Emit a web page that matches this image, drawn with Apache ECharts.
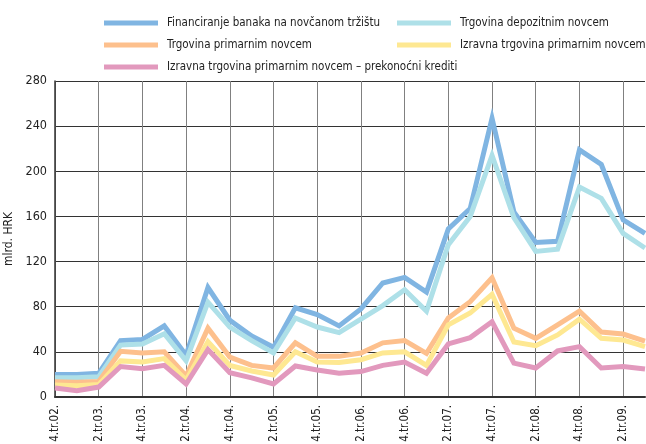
<!DOCTYPE html>
<html>
<head>
    <meta http-equiv="Content-Type" content="text/html; charset=utf-8">
    <title>Novčano tržište</title>
    <script src="https://cdn.jsdelivr.net/npm/echarts@6/dist/echarts.min.js"></script>
    <style>
        body {margin:0; background:#fff;}
    </style>
</head>
<body>
    <div id="main" style="width: 646px;height:444px;"></div>
    <script type="text/javascript">
        var quarters = ["4.tr.02.",
            "1.tr.03.","2.tr.03.","3.tr.03.","4.tr.03.",
            "1.tr.04.","2.tr.04.","3.tr.04.","4.tr.04.",
            "1.tr.05.","2.tr.05.","3.tr.05.","4.tr.05.",
            "1.tr.06.","2.tr.06.","3.tr.06.","4.tr.06.",
            "1.tr.07.","2.tr.07.","3.tr.07.","4.tr.07.",
            "1.tr.08.","2.tr.08.","3.tr.08.","4.tr.08.",
            "1.tr.09.","2.tr.09.","3.tr.09."];

        var financiranje = [20, 20, 21, 50, 51, 63, 37, 97, 68, 54, 44, 79, 73, 63,
                            78, 101, 106, 93, 149, 167, 247, 164, 137, 138, 219, 206, 157, 145];
        var depozitni    = [17, 17, 18, 46, 47, 56, 32, 84, 62, 50, 39, 70, 62, 57,
                            69, 81, 95, 76, 135, 160, 214, 159, 129, 131, 186, 176, 145, 132];
        var primarni     = [13.6, 13, 13.8, 40.5, 39, 40, 18.6, 61, 35.4, 28, 25.7, 48, 36, 36,
                            39, 48, 50, 38.7, 70, 84.5, 105.6, 61, 52, 64, 76, 57.6, 55.8, 49.6];
        var izravna      = [10.6, 10, 11, 32, 31, 34, 15, 49, 28, 23, 19.5, 40, 31, 30.5,
                            33, 39, 40, 28, 64, 74.4, 91, 48.7, 45.5, 55, 69, 52, 50.5, 44.6];
        var prekonocni   = [8, 5.6, 8.8, 27, 25, 28, 11.5, 42, 21.5, 17, 11.5, 27.5, 24, 21,
                            22.5, 28, 31, 21, 47, 52.6, 66.7, 30, 25.7, 40.8, 44.6, 25.7, 27, 24.8];

        var names = ["Financiranje banaka na novčanom tržištu",
                     "Trgovina depozitnim novcem",
                     "Trgovina primarnim novcem",
                     "Izravna trgovina primarnim novcem",
                     "Izravna trgovina primarnim novcem – prekonoćni krediti"];
        var colors = ["#80b5e2", "#aee0e8", "#fdc08d", "#fee892", "#e299bd"];
        var values = [financiranje, depozitni, primarni, izravna, prekonocni];

        var font = '"DejaVu Sans Condensed", "Liberation Sans Narrow", sans-serif';

        var myChart = echarts.init(document.getElementById('main'));

        // two legend columns so the items line up like the original
        var legendBase = {
            orient: 'vertical',
            top: 16,
            padding: 0,
            itemWidth: 54,
            itemHeight: 5,
            itemGap: 8,
            icon: 'rect',
            textStyle: {fontFamily: font, fontSize: 11.5, lineHeight: 14, color: '#222', padding: [0, 0, 0, 4]}
        };

        var series = names.map(function (n, i) {
            return {
                name: n,
                type: 'line',
                data: values[i],
                symbol: 'none',
                color: colors[i],
                lineStyle: {width: 5, color: colors[i], join: 'miter'}
            };
        });

        var option = {
            animation: false,
            textStyle: {fontFamily: font},
            legend: [
                Object.assign({}, legendBase, {left: 104, data: [names[0], names[2], names[4]]}),
                Object.assign({}, legendBase, {left: 397, data: [names[1], names[3]]})
            ],
            grid: {left: 55, right: 1, top: 81, bottom: 47, outerBoundsMode: 'none', containLabel: false},
            xAxis: {
                type: 'category',
                data: quarters,
                boundaryGap: false,
                axisLine: {lineStyle: {color: '#333', width: 2}},
                axisTick: {show: false},
                axisLabel: {interval: 1, rotate: 90, fontFamily: font, fontSize: 11.5, color: '#222', margin: 8},
                splitLine: {show: true, interval: 1, lineStyle: {color: '#808080', width: 1}}
            },
            yAxis: {
                type: 'value',
                min: 0,
                max: 280,
                interval: 40,
                name: 'mlrd. HRK',
                nameLocation: 'middle',
                nameGap: 38,
                nameTextStyle: {fontFamily: font, fontSize: 12, color: '#222'},
                axisLine: {show: true, lineStyle: {color: '#333', width: 1.5}},
                axisTick: {show: false},
                axisLabel: {fontFamily: font, fontSize: 12.5, color: '#222', margin: 8},
                splitLine: {lineStyle: {color: '#333', width: 1}}
            },
            series: series
        };

        myChart.setOption(option);
    </script>
</body>
</html>
